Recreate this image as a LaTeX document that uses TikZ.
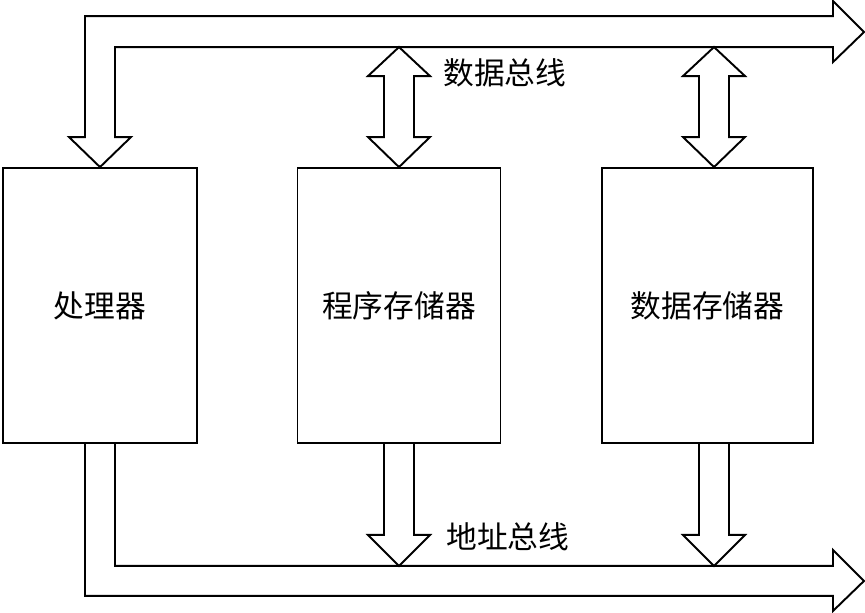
\documentclass[tikz,border=0pt]{standalone}
\usepackage{fontspec}
\newfontfamily\cjk{Noto Sans CJK SC}

\begin{document}
\begin{tikzpicture}[x=0.02cm,y=-0.02cm,unit/.style={draw,line width=1.1pt,inner sep=0pt,minimum height=5.5cm,font=\cjk\fontsize{17.5}{20}\selectfont},bus/.style={draw,line width=1.1pt,line join=miter},busname/.style={anchor=west,inner sep=0pt,font=\cjk\fontsize{17.5}{20}\selectfont}]
\useasboundingbox (0,0) rectangle (865,612);
\node[unit,minimum width=3.88cm] (cpu) at (100,305.5) {处理器};
\node[unit,minimum width=4.06cm] (prog) at (399,305.5) {程序存储器};
\node[unit,minimum width=4.22cm] (data) at (707.5,305.5) {数据存储器};
\node[busname] (dbus) at (443,73) {数据总线};
\node[busname] (abus) at (446,537) {地址总线};
\draw[bus] (cpu.north) -- ++(31,-30) -- ++(-16,0) -- ++(0,-90) -- ++(718,0) -- ++(0,15) -- ++(31,-30) -- ++(-31,-31) -- ++(0,15) -- ++(-748,0) -- ++(0,121) -- ++(-16,0) -- cycle;
\draw[bus] (prog.north) -- ++(-31,-30) -- ++(16,0) -- ++(0,-61) -- ++(-16,0) -- ++(31,-29) -- ++(31,29) -- ++(-16,0) -- ++(0,61) -- ++(16,0) -- cycle;
\draw[bus] ([xshift=0.13cm]data.north) -- ++(-31,-30) -- ++(16,0) -- ++(0,-61) -- ++(-16,0) -- ++(31,-29) -- ++(31,29) -- ++(-16,0) -- ++(0,61) -- ++(16,0) -- cycle;
\draw[bus] ([xshift=-0.3cm]cpu.south) -- ++(0,152) -- ++(748,0) -- ++(0,15) -- ++(31,-30) -- ++(-31,-31) -- ++(0,16) -- ++(-718,0) -- ++(0,-122);
\draw[bus] ([xshift=-0.3cm]prog.south) -- ++(0,91) -- ++(-16,0) -- ++(31,31) -- ++(31,-31) -- ++(-16,0) -- ++(0,-91);
\draw[bus] ([xshift=-0.17cm]data.south) -- ++(0,91) -- ++(-16,0) -- ++(31,31) -- ++(31,-31) -- ++(-16,0) -- ++(0,-91);
\end{tikzpicture}
\end{document}
